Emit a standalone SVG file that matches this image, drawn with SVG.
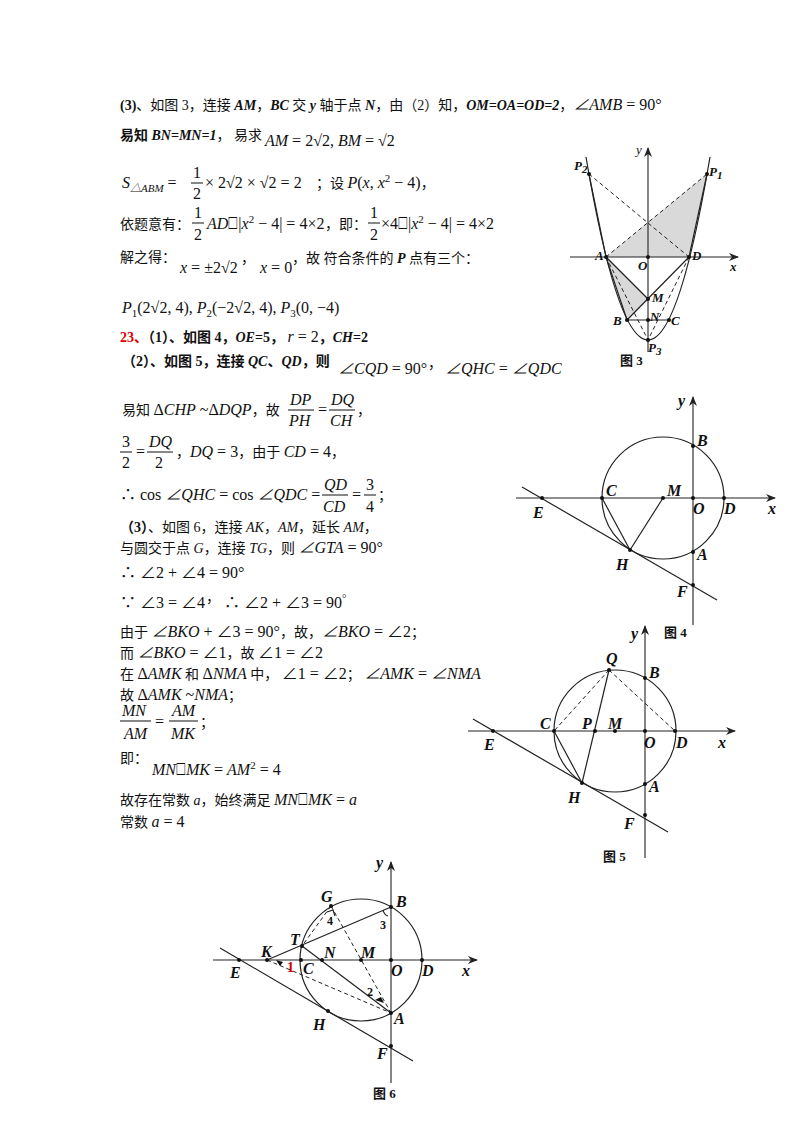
<svg xmlns="http://www.w3.org/2000/svg" width="800" height="1132" viewBox="0 0 800 1132">
<defs>
<marker id="arr" markerWidth="10" markerHeight="8" refX="9" refY="4" orient="auto" markerUnits="userSpaceOnUse"><path d="M0,0 L10,4 L0,8 L3,4 Z" fill="#222"/></marker>
</defs>
<style>
text{font-family:"Liberation Serif","Noto Sans CJK SC",serif;font-size:14px;fill:#111}
.i{font-style:italic}
.b{font-weight:bold}
.m{font-size:16px}
.lb{font-family:"Liberation Serif",serif;font-style:italic;font-weight:bold;font-size:16px}
.sm{font-size:11px}
.ln{stroke:#222;stroke-width:1.2;fill:none}
.ds{stroke:#222;stroke-width:1;fill:none;stroke-dasharray:4 3}
.ax{stroke:#222;stroke-width:1.1;fill:none}
.dot{fill:#111}
.cap{font-weight:bold;font-size:13px}
</style>
<rect width="800" height="1132" fill="#fff"/>

<g id="text">
<text x="120" y="110"><tspan class="b">(3)</tspan>、如图 3，连接 <tspan class="i b">AM</tspan>，<tspan class="i b">BC</tspan> 交 <tspan class="i b">y</tspan> 轴于点 <tspan class="i b">N</tspan>，由（2）知，<tspan class="i b">OM=OA=OD=2</tspan>，<tspan class="i m">∠AMB</tspan><tspan class="m"> = 90°</tspan></text>
<text x="120" y="140"><tspan class="b">易知 </tspan><tspan class="i b">BN=MN=1</tspan>， 易求</text>
<text x="265" y="146" class="m"><tspan class="i">AM</tspan> = 2√2, <tspan class="i">BM</tspan> = √2</text>
<text x="122" y="188" class="m"><tspan class="i">S</tspan><tspan class="sm i" dy="4">△ABM</tspan><tspan dy="-4"> =</tspan></text>
<text x="193" y="178" class="m">1</text><line x1="191" y1="183" x2="203" y2="183" stroke="#111"/><text x="193" y="199" class="m">2</text>
<text x="205" y="188" class="m">× 2√2 × √2 = 2</text><text x="316" y="188">；设 <tspan class="i m">P</tspan><tspan class="m">(</tspan><tspan class="i m">x</tspan><tspan class="m">, </tspan><tspan class="i m">x</tspan><tspan class="sm" dy="-6">2</tspan><tspan class="m" dy="6"> − 4)</tspan>，</text>
<text x="120" y="229">依题意有：</text>
<text x="194" y="218" class="m">1</text><line x1="192" y1="223" x2="204" y2="223" stroke="#111"/><text x="194" y="240" class="m">2</text>
<text x="207" y="229" class="m"><tspan class="i">AD</tspan>⎕|<tspan class="i">x</tspan><tspan class="sm" dy="-6">2</tspan><tspan dy="6"> − 4| = 4×2</tspan></text>
<text x="325" y="229">，即：</text>
<text x="370" y="218" class="m">1</text><line x1="368" y1="223" x2="380" y2="223" stroke="#111"/><text x="370" y="240" class="m">2</text>
<text x="381" y="229" class="m">×4⎕|<tspan class="i">x</tspan><tspan class="sm" dy="-6">2</tspan><tspan dy="6"> − 4| = 4×2</tspan></text>
<text x="120" y="262">解之得：</text>
<text x="180" y="273" class="m"><tspan class="i">x</tspan> = ±2√2</text><text x="241" y="263">，</text>
<text x="260" y="273" class="m"><tspan class="i">x</tspan> = 0</text><text x="292" y="263">，故 符合条件的 <tspan class="i b">P</tspan> 点有三个：</text>
<text x="122" y="313" class="m"><tspan class="i">P</tspan><tspan class="sm" dy="4">1</tspan><tspan dy="-4">(2√2, 4), </tspan><tspan class="i">P</tspan><tspan class="sm" dy="4">2</tspan><tspan dy="-4">(−2√2, 4), </tspan><tspan class="i">P</tspan><tspan class="sm" dy="4">3</tspan><tspan dy="-4">(0, −4)</tspan></text>
<text x="120" y="342" class="b"><tspan style="fill:#e00000">23、</tspan>（1）、如图 4，<tspan class="i">OE</tspan>=5， <tspan class="i m" style="font-weight:normal">r</tspan><tspan class="m" style="font-weight:normal"> = 2</tspan>，<tspan class="i">CH</tspan>=2</text>
<text x="122" y="366" class="b">（2）、如图 5，连接 <tspan class="i">QC</tspan>、<tspan class="i">QD</tspan>，则</text>
<text x="338" y="374" class="m"><tspan class="i">∠CQD</tspan> = 90°</text><text x="428" y="368">，</text>
<text x="445" y="374" class="m"><tspan class="i">∠QHC</tspan> = <tspan class="i">∠QDC</tspan></text>

<text x="122" y="415">易知 <tspan class="m">Δ</tspan><tspan class="i m">CHP</tspan><tspan class="m"> ~Δ</tspan><tspan class="i m">DQP</tspan>，故</text>
<text x="290" y="405" class="m i">DP</text><line x1="288" y1="410" x2="314" y2="410" stroke="#111"/><text x="289" y="426" class="m i">PH</text>
<text x="318" y="415" class="m">=</text>
<text x="331" y="405" class="m i">DQ</text><line x1="329" y1="410" x2="355" y2="410" stroke="#111"/><text x="330" y="426" class="m i">CH</text><text x="357" y="415">，</text>
<text x="122" y="447" class="m">3</text><line x1="120" y1="452" x2="132" y2="452" stroke="#111"/><text x="122" y="468" class="m">2</text>
<text x="136" y="457" class="m">=</text>
<text x="149" y="447" class="m i">DQ</text><line x1="147" y1="452" x2="173" y2="452" stroke="#111"/><text x="155" y="468" class="m">2</text>
<text x="176" y="457">，<tspan class="i m">DQ</tspan><tspan class="m"> = 3</tspan>，由于 <tspan class="i m">CD</tspan><tspan class="m"> = 4</tspan>，</text>
<text x="120" y="500" class="m">∴ cos <tspan class="i">∠QHC</tspan> = cos <tspan class="i">∠QDC</tspan> =</text>
<text x="324" y="490" class="m i">QD</text><line x1="322" y1="495" x2="348" y2="495" stroke="#111"/><text x="323" y="512" class="m i">CD</text>
<text x="352" y="500" class="m">=</text>
<text x="366" y="490" class="m">3</text><line x1="364" y1="495" x2="376" y2="495" stroke="#111"/><text x="366" y="512" class="m">4</text><text x="378" y="500">；</text>
<text x="120" y="532"><tspan class="b">（3）</tspan>、如图 6，连接 <tspan class="i">AK</tspan>，<tspan class="i">AM</tspan>，延长 <tspan class="i">AM</tspan>，</text>
<text x="120" y="553">与圆交于点 <tspan class="i">G</tspan>，连接 <tspan class="i">TG</tspan>，则 <tspan class="i m">∠GTA</tspan><tspan class="m"> = 90°</tspan></text>
<text x="120" y="578" class="m">∴ ∠2 + ∠4 = 90°</text>
<text x="120" y="608" class="m">∵ ∠3 = ∠4</text><text x="206" y="602">，</text><text x="224" y="608" class="m">∴ ∠2 + ∠3 = 90<tspan class="sm" dy="-6">°</tspan></text>
<text x="120" y="637">由于 <tspan class="i m">∠BKO</tspan><tspan class="m"> + ∠3 = 90°</tspan>，故，<tspan class="i m">∠BKO</tspan><tspan class="m"> = ∠2</tspan>；</text>
<text x="120" y="658">而 <tspan class="i m">∠BKO</tspan><tspan class="m"> = ∠1</tspan>，故 <tspan class="m">∠1 = ∠2</tspan></text>
<text x="120" y="679">在 <tspan class="m">Δ</tspan><tspan class="i m">AMK</tspan> 和 <tspan class="m">Δ</tspan><tspan class="i m">NMA</tspan> 中， <tspan class="m">∠1 = ∠2</tspan>； <tspan class="i m">∠AMK</tspan><tspan class="m"> = </tspan><tspan class="i m">∠NMA</tspan></text>
<text x="120" y="700">故 <tspan class="m">Δ</tspan><tspan class="i m">AMK</tspan><tspan class="m"> ~</tspan><tspan class="i m">NMA</tspan>；</text>
<text x="122" y="716" class="m i">MN</text><line x1="120" y1="721" x2="151" y2="721" stroke="#111"/><text x="124" y="739" class="m i">AM</text>
<text x="155" y="727" class="m">=</text>
<text x="172" y="716" class="m i">AM</text><line x1="169" y1="721" x2="198" y2="721" stroke="#111"/><text x="171" y="739" class="m i">MK</text><text x="200" y="727">；</text>
<text x="120" y="763">即：</text>
<text x="152" y="775" class="m"><tspan class="i">MN</tspan>⎕<tspan class="i">MK</tspan> = <tspan class="i">AM</tspan><tspan class="sm" dy="-6">2</tspan><tspan dy="6"> = 4</tspan></text>
<text x="120" y="805">故存在常数 <tspan class="i">a</tspan>，始终满足 <tspan class="i m">MN</tspan><tspan class="m">⎕</tspan><tspan class="i m">MK</tspan><tspan class="m"> = </tspan><tspan class="i m">a</tspan></text>
<text x="120" y="827">常数 <tspan class="i m">a</tspan><tspan class="m"> = 4</tspan></text>
</g>

<g id="fig3">
<polygon points="606,257 707,174 689,257" fill="#d9d9d9"/>
<polygon points="606,257 648,299 627,320" fill="#d9d9d9"/>
<line x1="570" y1="257" x2="738" y2="257" class="ax" marker-end="url(#arr)"/>
<line x1="648" y1="352" x2="648" y2="148" class="ax" marker-end="url(#arr)"/>
<path d="M586,157 Q648,523 710,157" class="ln"/>
<line x1="606" y1="257" x2="707" y2="174" class="ds"/>
<line x1="589" y1="174" x2="689" y2="257" class="ds"/>
<line x1="606" y1="257" x2="648" y2="340" class="ds"/>
<line x1="689" y1="257" x2="648" y2="340" class="ds"/>
<line x1="606" y1="257" x2="648" y2="299" class="ln"/>
<line x1="689" y1="257" x2="627" y2="320" class="ln"/>
<line x1="627" y1="320" x2="669" y2="320" class="ln"/>
<line x1="606" y1="257" x2="627" y2="320" class="ln"/>
<line x1="689" y1="257" x2="707" y2="174" class="ln"/>
<line x1="606" y1="257" x2="589" y2="174" class="ln"/>
<g class="dot"><circle cx="606" cy="257" r="2"/><circle cx="689" cy="257" r="2"/><circle cx="648" cy="257" r="2"/><circle cx="648" cy="299" r="2"/><circle cx="648" cy="320" r="2"/><circle cx="627" cy="320" r="2"/><circle cx="669" cy="320" r="2"/><circle cx="648" cy="340" r="2"/><circle cx="707" cy="174" r="2"/><circle cx="589" cy="174" r="2"/></g>
<text x="574" y="170" class="lb" style="font-size:13px">P<tspan class="sm" dy="3">2</tspan></text>
<text x="709" y="176" class="lb" style="font-size:13px">P<tspan class="sm" dy="3">1</tspan></text>
<text x="636" y="154" class="lb" style="font-size:13px;font-weight:normal">y</text>
<text x="595" y="260" class="lb" style="font-size:13px">A</text>
<text x="692" y="260" class="lb" style="font-size:13px">D</text>
<text x="638" y="270" class="lb" style="font-size:13px">O</text>
<text x="730" y="271" class="lb" style="font-size:13px">x</text>
<text x="652" y="302" class="lb" style="font-size:13px">M</text>
<text x="613" y="325" class="lb" style="font-size:13px">B</text>
<text x="650" y="321" class="lb" style="font-size:13px">N</text>
<text x="671" y="325" class="lb" style="font-size:13px">C</text>
<text x="648" y="352" class="lb" style="font-size:13px">P<tspan class="sm" dy="3">3</tspan></text>
<text x="620" y="365" class="cap">图 3</text>
</g>

<g id="fig4">
<line x1="516" y1="498" x2="775" y2="498" class="ax" marker-end="url(#arr)"/>
<line x1="693" y1="625" x2="693" y2="397" class="ax" marker-end="url(#arr)"/>
<circle cx="663" cy="498" r="61" class="ln"/>
<line x1="522" y1="487" x2="717" y2="600" class="ln"/>
<line x1="602" y1="498" x2="630" y2="550" class="ln"/>
<line x1="663" y1="498" x2="630" y2="550" class="ln"/>
<g class="dot"><circle cx="602" cy="498" r="2"/><circle cx="663" cy="498" r="2"/><circle cx="693" cy="498" r="2"/><circle cx="724" cy="498" r="2"/><circle cx="542" cy="498" r="2"/><circle cx="693" cy="446" r="2"/><circle cx="693" cy="552" r="2"/><circle cx="630" cy="550" r="2"/><circle cx="693" cy="585" r="2"/></g>
<text x="678" y="406" class="lb">y</text>
<text x="697" y="446" class="lb">B</text>
<text x="606" y="496" class="lb">C</text>
<text x="667" y="496" class="lb">M</text>
<text x="533" y="518" class="lb">E</text>
<text x="693" y="514" class="lb">O</text>
<text x="724" y="514" class="lb">D</text>
<text x="768" y="514" class="lb">x</text>
<text x="616" y="570" class="lb">H</text>
<text x="697" y="560" class="lb">A</text>
<text x="677" y="597" class="lb">F</text>
<text x="664" y="637" class="cap">图 4</text>
</g>

<g id="fig5">
<line x1="468" y1="731" x2="735" y2="731" class="ax" marker-end="url(#arr)"/>
<line x1="645" y1="858" x2="645" y2="626" class="ax" marker-end="url(#arr)"/>
<circle cx="615" cy="731" r="61" class="ln"/>
<line x1="473" y1="719" x2="668" y2="832" class="ln"/>
<line x1="554" y1="731" x2="582" y2="783" class="ln"/>
<line x1="609" y1="670" x2="582" y2="783" class="ln"/>
<line x1="609" y1="670" x2="554" y2="731" class="ds"/>
<line x1="609" y1="670" x2="675" y2="731" class="ds"/>
<g class="dot"><circle cx="554" cy="731" r="2"/><circle cx="595" cy="731" r="2"/><circle cx="615" cy="731" r="2"/><circle cx="645" cy="731" r="2"/><circle cx="675" cy="731" r="2"/><circle cx="493" cy="731" r="2"/><circle cx="609" cy="670" r="2"/><circle cx="645" cy="678" r="2"/><circle cx="645" cy="784" r="2"/><circle cx="582" cy="783" r="2"/><circle cx="645" cy="815" r="2"/></g>
<text x="631" y="639" class="lb">y</text>
<text x="606" y="664" class="lb">Q</text>
<text x="649" y="678" class="lb">B</text>
<text x="540" y="729" class="lb">C</text>
<text x="582" y="729" class="lb">P</text>
<text x="608" y="729" class="lb">M</text>
<text x="484" y="750" class="lb">E</text>
<text x="644" y="748" class="lb">O</text>
<text x="676" y="748" class="lb">D</text>
<text x="718" y="748" class="lb">x</text>
<text x="568" y="803" class="lb">H</text>
<text x="649" y="792" class="lb">A</text>
<text x="624" y="829" class="lb">F</text>
<text x="603" y="861" class="cap">图 5</text>
</g>

<g id="fig6">
<line x1="213" y1="960" x2="477" y2="960" class="ax" marker-end="url(#arr)"/>
<line x1="391" y1="1083" x2="391" y2="862" class="ax" marker-end="url(#arr)"/>
<circle cx="361" cy="960" r="61" class="ln"/>
<line x1="220" y1="948" x2="413" y2="1061" class="ln"/>
<line x1="267" y1="960" x2="391" y2="907" class="ln"/>
<line x1="302" y1="946" x2="391" y2="1013" class="ln"/>
<line x1="331" y1="906" x2="302" y2="946" class="ds"/>
<line x1="331" y1="906" x2="391" y2="1013" class="ds"/>
<line x1="267" y1="960" x2="391" y2="1013" class="ds"/>
<path d="M327,912 L333,910 L335,916" class="ln" stroke-width="0.8"/>
<path d="M383,910 A8,8 0 0 0 388,916" class="ln" stroke-width="0.8"/>
<path d="M375,1000 L381,997 L384,1003 Z" fill="#111"/>
<path d="M276,960 L280,966 L283,962 Z" fill="#111"/>
<g class="dot"><circle cx="267" cy="960" r="2"/><circle cx="239" cy="960" r="2"/><circle cx="301" cy="960" r="2"/><circle cx="322" cy="960" r="2"/><circle cx="361" cy="960" r="2"/><circle cx="391" cy="960" r="2"/><circle cx="422" cy="960" r="2"/><circle cx="331" cy="906" r="2"/><circle cx="302" cy="946" r="2"/><circle cx="391" cy="907" r="2"/><circle cx="391" cy="1013" r="2"/><circle cx="328" cy="1011" r="2"/><circle cx="391" cy="1046" r="2"/></g>
<text x="376" y="868" class="lb">y</text>
<text x="321" y="902" class="lb">G</text>
<text x="396" y="907" class="lb">B</text>
<text x="327" y="925" class="b" style="font-size:12px">4</text>
<text x="380" y="929" class="b" style="font-size:12px">3</text>
<text x="290" y="945" class="lb">T</text>
<text x="261" y="957" class="lb">K</text>
<text x="324" y="958" class="lb">N</text>
<text x="361" y="958" class="lb">M</text>
<text x="287" y="972" class="b" style="font-size:14px;fill:#d00000">1</text>
<text x="303" y="974" class="lb">C</text>
<text x="230" y="978" class="lb">E</text>
<text x="391" y="976" class="lb">O</text>
<text x="422" y="976" class="lb">D</text>
<text x="462" y="976" class="lb">x</text>
<text x="367" y="996" class="b" style="font-size:12px">2</text>
<text x="394" y="1024" class="lb">A</text>
<text x="313" y="1030" class="lb">H</text>
<text x="377" y="1059" class="lb">F</text>
<text x="373" y="1098" class="cap">图 6</text>
</g>
</svg>
